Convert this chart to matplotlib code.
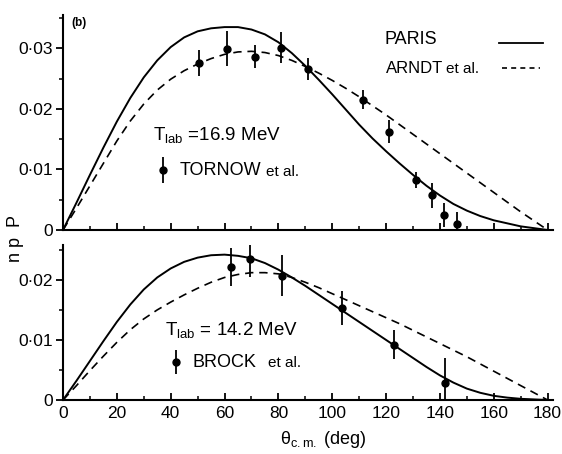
import numpy as np
import matplotlib
matplotlib.use('Agg')
import matplotlib.pyplot as plt
from matplotlib.ticker import MultipleLocator, FuncFormatter

plt.rcParams['font.family'] = ['Liberation Sans', 'DejaVu Sans']
plt.rcParams['mathtext.fontset'] = 'custom'
plt.rcParams['mathtext.rm'] = 'Liberation Sans'
plt.rcParams['mathtext.it'] = 'Liberation Sans'

# ---------------- data ----------------
theta = [0, 5, 10, 15, 20, 25, 30, 35, 40, 45, 50, 55, 60, 65, 70, 75, 80, 85, 90,
         95, 100, 105, 110, 115, 120, 125, 130, 135, 140, 145, 150, 155, 160, 165,
         170, 175, 180]

# T_lab = 16.9 MeV
paris_169 = [0, 0.0045, 0.0091, 0.0136, 0.0179, 0.0218, 0.0252, 0.0280, 0.0302,
             0.0318, 0.0328, 0.0333, 0.0335, 0.0335, 0.0331, 0.0323, 0.0310, 0.0292,
             0.0271, 0.0248, 0.0224, 0.0199, 0.0174, 0.0151, 0.0130, 0.0110, 0.0091,
             0.0073, 0.0057, 0.0043, 0.0032, 0.0023, 0.0016, 0.0011, 0.0006, 0.0003, 0]
arndt_169 = [0, 0.0036, 0.0073, 0.0110, 0.0147, 0.0180, 0.0208, 0.0231, 0.0249,
             0.0263, 0.0274, 0.0283, 0.0290, 0.0294, 0.0295, 0.0293, 0.0288, 0.0280,
             0.0270, 0.0259, 0.0247, 0.0234, 0.0220, 0.0205, 0.0190, 0.0174, 0.0158,
             0.0142, 0.0126, 0.0110, 0.0094, 0.0078, 0.0062, 0.0046, 0.0030, 0.0015, 0]
tornow_x = [50.6, 61, 71.4, 81, 91, 111.5, 121, 131, 137, 141.6, 146.5]
tornow_y = [0.0276, 0.0299, 0.0286, 0.0301, 0.0266, 0.0215, 0.0162, 0.0082, 0.0057,
            0.0025, 0.0010]
tornow_err = [0.0022, 0.0029, 0.0019, 0.0026, 0.0018, 0.0016, 0.0019, 0.0013, 0.0021,
              0.0020, 0.0020]

# T_lab = 14.2 MeV
paris_142 = [0, 0.0032, 0.0065, 0.0098, 0.0130, 0.0159, 0.0184, 0.0204, 0.0219,
             0.0230, 0.0237, 0.0241, 0.0242, 0.0240, 0.0236, 0.0228, 0.0217, 0.0204,
             0.0190, 0.0175, 0.0160, 0.0145, 0.0130, 0.0115, 0.0100, 0.0085, 0.0070,
             0.0055, 0.0041, 0.0029, 0.0019, 0.0012, 0.0007, 0.0004, 0.0002, 0.0001, 0]
arndt_142 = [0, 0.0024, 0.0049, 0.0073, 0.0096, 0.0117, 0.0135, 0.0150, 0.0163,
             0.0175, 0.0186, 0.0196, 0.0204, 0.0209, 0.0212, 0.0212, 0.0210, 0.0204,
             0.0196, 0.0187, 0.0177, 0.0167, 0.0157, 0.0147, 0.0137, 0.0127, 0.0116,
             0.0105, 0.0094, 0.0083, 0.0072, 0.0060, 0.0048, 0.0036, 0.0024, 0.0012, 0]
brock_x = [62.5, 69.5, 81.3, 103.6, 122.8, 142]
brock_y = [0.0221, 0.0235, 0.0207, 0.0153, 0.0092, 0.0028]
brock_err = [0.0032, 0.0030, 0.0034, 0.0028, 0.0024, 0.0042]


def dotfmt(v, pos):
    if abs(v) < 1e-9:
        return '0'
    return ('%.2f' % v).replace('.', '\u00b7')


def style_axes(ax, ytop, labels):
    ax.set_xlim(0, 182)
    ax.set_ylim(0, ytop)
    for s in ['top', 'right']:
        ax.spines[s].set_visible(False)
    ax.spines['left'].set_linewidth(1.5)
    ax.spines['bottom'].set_linewidth(1.5)
    ax.xaxis.set_major_locator(MultipleLocator(20))
    ax.xaxis.set_minor_locator(MultipleLocator(10))
    ax.yaxis.set_major_locator(MultipleLocator(0.01))
    ax.yaxis.set_minor_locator(MultipleLocator(0.005))
    ax.yaxis.set_major_formatter(FuncFormatter(dotfmt))
    ax.tick_params(axis='x', which='major', direction='in', length=5, width=1.3,
                   labelsize=12.5, labelbottom=labels, pad=4)
    ax.tick_params(axis='x', which='minor', direction='in', length=3, width=1.1)
    ax.tick_params(axis='y', which='major', direction='out', length=5, width=1.3,
                   labelsize=12.5, pad=2)
    ax.tick_params(axis='y', which='minor', direction='out', length=3, width=1.1)
    # arrow head on y axis
    ax.plot(0, 1.0, marker='^', color='k', markersize=6,
            transform=ax.get_yaxis_transform(), clip_on=False)


fig = plt.figure(figsize=(5.62, 4.54), dpi=100)
ax1 = fig.add_axes([0.1121, 0.4934, 0.8719, 0.4736])
ax2 = fig.add_axes([0.1121, 0.1189, 0.8719, 0.3414])

# top panel
ax1.plot(theta, paris_169, color='k', lw=1.4)
ax1.plot(theta, arndt_169, color='k', lw=1.2, dashes=(5, 3.5))
ax1.errorbar(tornow_x, tornow_y, yerr=tornow_err, fmt='o', color='k', ms=5,
             elinewidth=1.3, capsize=0)
style_axes(ax1, 0.0355, False)

ax1.text(0.018, 0.965, '(b)', transform=ax1.transAxes, fontsize=8.5,
         fontweight='bold', va='center')
ax1.text(0.657, 0.884, 'PARIS', transform=ax1.transAxes, fontsize=13, va='center')
ax1.plot([0.89, 0.98], [0.870, 0.870], color='k', lw=1.3, transform=ax1.transAxes,
         clip_on=False)
ax1.text(0.66, 0.753, 'ARNDT', transform=ax1.transAxes, fontsize=12, va='center')
ax1.text(0.782, 0.748, 'et al.', transform=ax1.transAxes, fontsize=11, va='center')
ax1.plot([0.896, 0.973], [0.753, 0.753], color='k', lw=1.2, dashes=(3, 2.5),
         transform=ax1.transAxes, clip_on=False)
ax1.text(0.184, 0.442, r'$\mathregular{T_{lab}}$ =16.9 MeV', transform=ax1.transAxes,
         fontsize=13.5, va='center')
ax1.errorbar([0.204], [0.279], yerr=[0.06], fmt='o', color='k', ms=5, elinewidth=1.3,
             capsize=0, transform=ax1.transAxes, clip_on=False)
ax1.text(0.239, 0.279, 'TORNOW', transform=ax1.transAxes, fontsize=13, va='center')
ax1.text(0.414, 0.272, 'et al.', transform=ax1.transAxes, fontsize=11, va='center')

# bottom panel
ax2.plot(theta, paris_142, color='k', lw=1.4)
ax2.plot(theta, arndt_142, color='k', lw=1.2, dashes=(5, 3.5))
ax2.errorbar(brock_x, brock_y, yerr=brock_err, fmt='o', color='k', ms=5,
             elinewidth=1.3, capsize=0)
style_axes(ax2, 0.0258, True)

ax2.text(0.208, 0.452, r'$\mathregular{T_{lab}}$ = 14.2 MeV', transform=ax2.transAxes,
         fontsize=13.5, va='center')
ax2.errorbar([0.231], [0.245], yerr=[0.075], fmt='o', color='k', ms=5, elinewidth=1.3,
             capsize=0, transform=ax2.transAxes, clip_on=False)
ax2.text(0.265, 0.245, 'BROCK', transform=ax2.transAxes, fontsize=13, va='center')
ax2.text(0.418, 0.238, 'et al.', transform=ax2.transAxes, fontsize=11, va='center')

fig.text(0.575, 0.032, r'$\mathregular{\theta_{c.m.}}$ (deg)', fontsize=13,
         ha='center', va='center')
fig.text(0.027, 0.475, 'n p  P', fontsize=13, rotation=90, ha='center', va='center')

fig.savefig('out.png', dpi=100)
